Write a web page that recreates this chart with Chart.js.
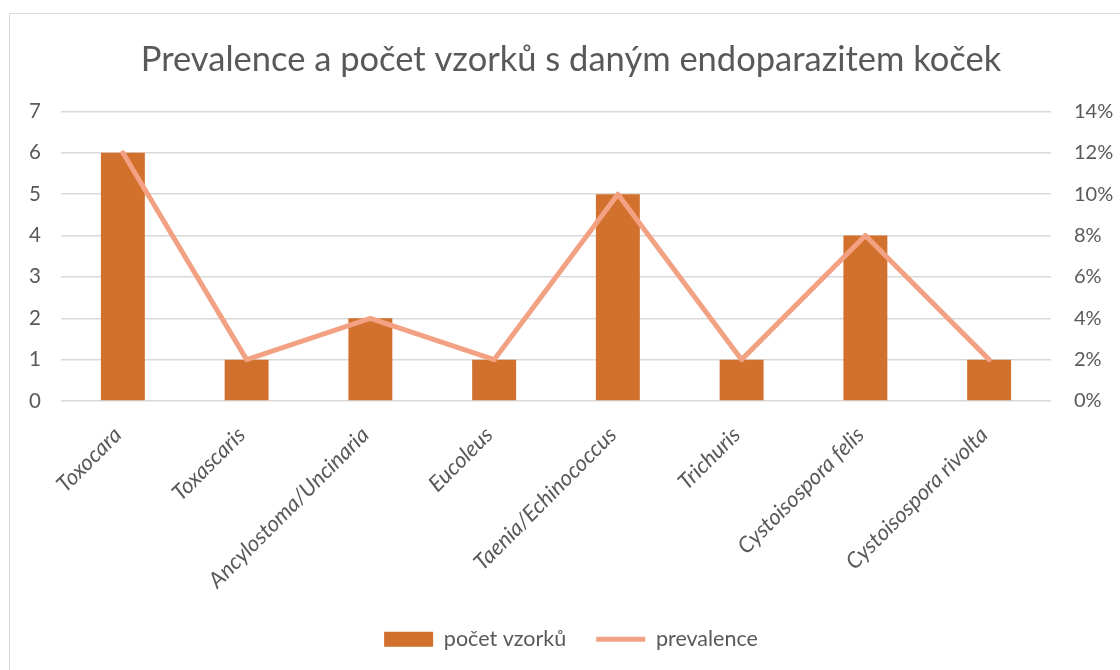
<!DOCTYPE html>
<html>
<head>
<meta charset="utf-8">
<script src="https://cdn.jsdelivr.net/npm/chart.js@4"></script>
<style>
  html, body { margin: 0; padding: 0; background: #fff; overflow: hidden; }
  #wrap { position: relative; width: 1120px; height: 670px; overflow: hidden; }
  #frame { position: absolute; left: 9px; top: 13px; width: 1111px; height: 657px; border-left: 1px solid #d9d9d9; border-top: 1px solid #d9d9d9; box-sizing: border-box; }
  canvas { position: absolute; left: 0; top: 0; }
</style>
</head>
<body>
<div id="wrap">
  <div id="frame"></div>
  <canvas id="c" width="1120" height="670"></canvas>
</div>
<script>
const categories = ["Toxocara", "Toxascaris", "Ancylostoma/Uncinaria", "Eucoleus", "Taenia/Echinococcus", "Trichuris", "Cystoisospora felis", "Cystoisospora rivolta"];
const pocetVzorku = [6, 1, 2, 1, 5, 1, 4, 1];
const prevalence = [12, 2, 4, 2, 10, 2, 8, 2];
const leftTicks = [0, 1, 2, 3, 4, 5, 6, 7];
const rightTicks = ["0%", "2%", "4%", "6%", "8%", "10%", "12%", "14%"];

const FONT = "Lato, 'Open Sans', sans-serif";
const TXT = "#595959";

// the original chart frame extends past the right edge, so title and legend are centred a bit right of the canvas middle
const centerShift = {
  id: 'centerShift',
  afterLayout(chart) {
    if (chart.titleBlock) chart.titleBlock.left += 12;
    if (chart.legend) { chart.legend.left += 12; }
  }
};

new Chart(document.getElementById('c'), {
  data: {
    labels: categories,
    datasets: [
      {
        type: 'line',
        label: 'prevalence',
        data: prevalence,
        yAxisID: 'y2',
        borderColor: '#F2A283',
        backgroundColor: '#F2A283',
        borderWidth: 5,
        borderCapStyle: 'round',
        borderJoinStyle: 'round',
        pointRadius: 0,
        pointStyle: 'line',
        tension: 0,
        order: 0
      },
      {
        type: 'bar',
        label: 'počet vzorků',
        data: pocetVzorku,
        yAxisID: 'y',
        backgroundColor: '#D2702D',
        borderWidth: 0,
        pointStyle: 'rect',
        categoryPercentage: 1,
        barPercentage: 0.355,
        order: 1
      }
    ]
  },
  plugins: [centerShift],
  options: {
    responsive: false,
    animation: false,
    layout: { padding: { left: 10, right: 0, top: 13, bottom: 10 } },
    plugins: {
      title: {
        display: true,
        text: 'Prevalence a počet vzorků s daným endoparazitem koček',
        color: TXT,
        font: { family: FONT, size: 34.5, weight: 'normal' },
        padding: { top: 26, bottom: 31 }
      },
      legend: {
        position: 'bottom',
        reverse: true,
        labels: {
          color: TXT,
          font: { family: FONT, size: 21.5 },
          usePointStyle: true,
          pointStyleWidth: 49,
          boxHeight: 15,
          padding: 30
        }
      },
      tooltip: { enabled: false }
    },
    scales: {
      x: {
        grid: { display: false },
        border: { display: false },
        ticks: {
          color: TXT,
          font: { family: FONT, size: 22, style: 'italic' },
          maxRotation: 45,
          minRotation: 45,
          padding: 13,
          labelOffset: -5,
          autoSkip: false
        },
        afterFit(s) { s.height = 197.5; }
      },
      y: {
        position: 'left',
        min: 0, max: 7,
        afterBuildTicks(s) { s.ticks = leftTicks.map(v => ({ value: v })); },
        ticks: { color: TXT, font: { family: FONT, size: 20.5 }, padding: 20, callback: v => String(v) },
        grid: { color: '#d9d9d9', lineWidth: 1.5, drawTicks: false },
        border: { display: false },
        afterFit(s) { s.width = 51; }
      },
      y2: {
        position: 'right',
        min: 0, max: 14,
        afterBuildTicks(s) { s.ticks = rightTicks.map((t, i) => ({ value: i * 2 })); },
        ticks: { color: TXT, font: { family: FONT, size: 20 }, padding: 23, callback: (v, i) => rightTicks[i] },
        grid: { display: false, drawTicks: false },
        border: { display: false },
        afterFit(s) { s.width = 69; }
      }
    }
  }
});
</script>
</body>
</html>
